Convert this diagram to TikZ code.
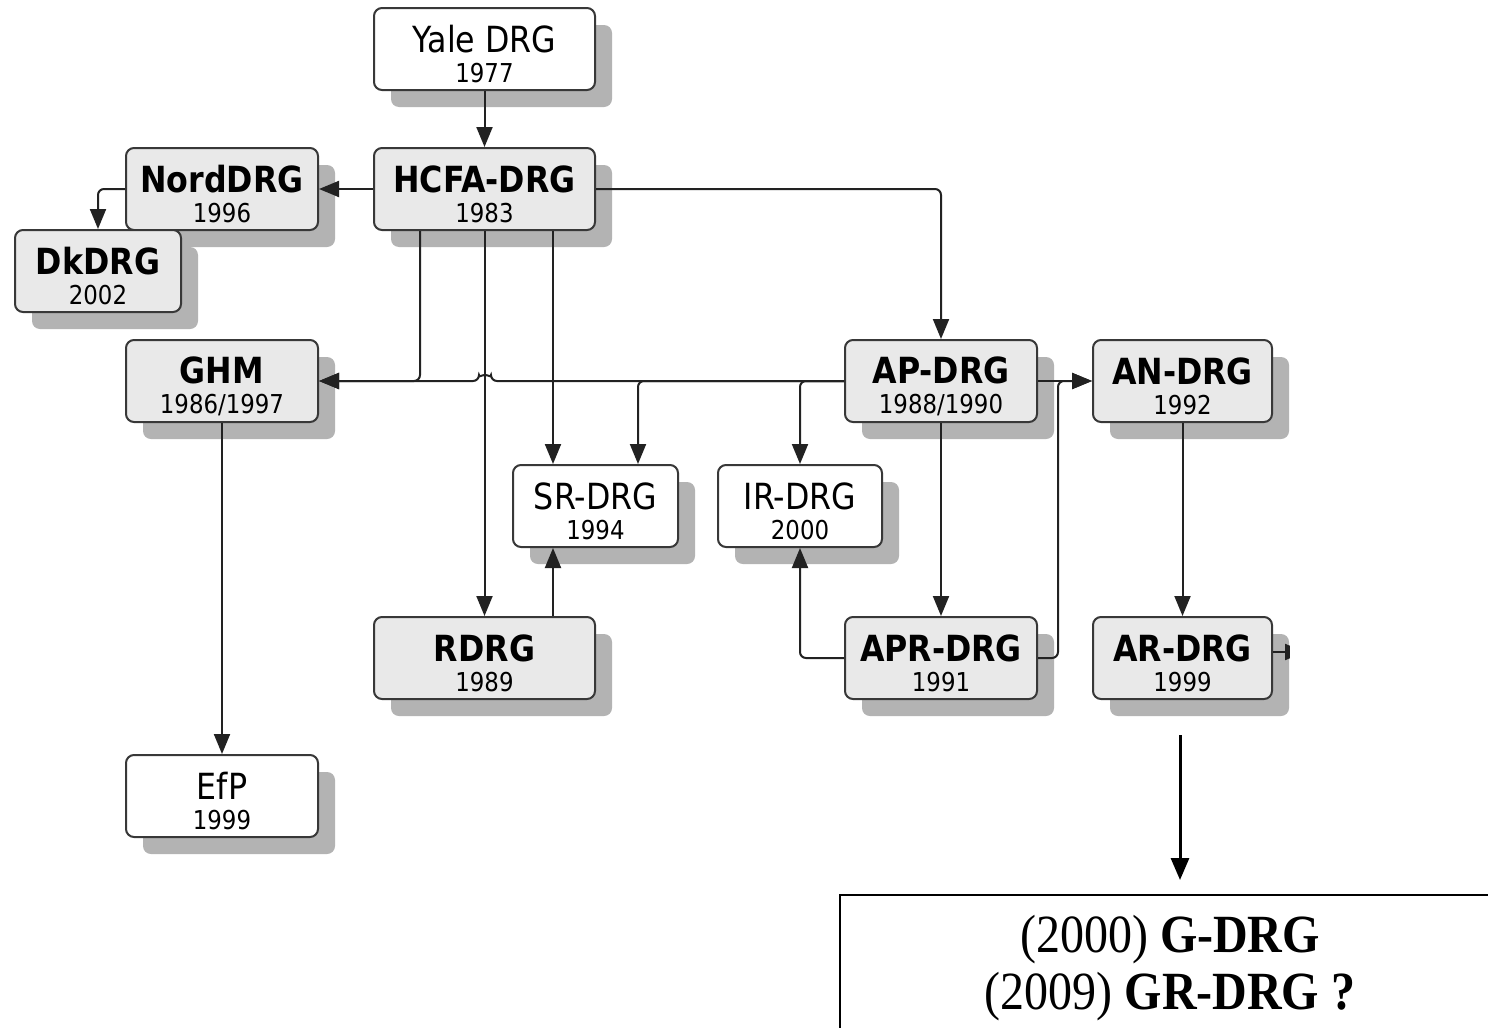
\documentclass[tikz,border=0pt]{standalone}
\usepackage{fontspec}
\newfontfamily\boxfont{DejaVu Sans}[FakeStretch=0.88]
\newfontfamily\timesfont{Liberation Serif}
\usetikzlibrary{arrows.meta,shadows,calc}
\definecolor{boxline}{HTML}{383838}
\definecolor{boxfill}{HTML}{E9E9E9}
\definecolor{shadowgray}{HTML}{B3B3B3}
\definecolor{connline}{HTML}{222222}
\tikzset{
 drgbox/.style={draw=boxline, line width=1pt, rounded corners=4pt, align=center, inner sep=0pt,
   general shadow={shadow xshift=8.5pt, shadow yshift=-8.5pt, fill=shadowgray, draw=none},
   font=\boxfont\fontsize{13}{15}\selectfont, minimum height=41pt},
 graybox/.style={drgbox, fill=boxfill},
 whitebox/.style={drgbox, fill=white},
 conn/.style={draw=connline, line width=1pt, rounded corners=3pt},
 arr/.style={conn, -{Triangle[length=10pt,width=8pt]}},
}
\newcommand{\ttl}[1]{{\rule{0pt}{19pt}\fontsize{18}{15}\selectfont #1}}
\newcommand{\btl}[1]{{\rule{0pt}{19pt}\fontsize{18}{15}\selectfont\bfseries #1}}
\begin{document}
\begin{tikzpicture}[x=0.5pt,y=-0.5pt]
\useasboundingbox[fill=white] (0,0) rectangle (1488,1028);
% nodes
\node[whitebox, minimum width=110.5pt] (yale) at (484.5,49) {\ttl{Yale DRG}\\1977};
\node[graybox, minimum width=110.5pt] (hcfa) at (484.5,189) {\btl{HCFA-DRG}\\1983};
\node[graybox, minimum width=96pt] (nord) at (222,189) {\btl{NordDRG}\\1996};
\node[graybox, minimum width=83pt] (dk) at (98,271) {\btl{DkDRG}\\2002};
\node[graybox, minimum width=96pt] (ghm) at (222,381) {\btl{GHM}\\1986/1997};
\node[graybox, minimum width=96pt] (ap) at (941,381) {\btl{AP-DRG}\\1988/1990};
\node[graybox, minimum width=89.5pt] (an) at (1182.5,381) {\btl{AN-DRG}\\1992};
\node[whitebox, minimum width=82.5pt] (sr) at (595.5,506) {\ttl{SR-DRG}\\1994};
\node[whitebox, minimum width=82pt] (ir) at (800,506) {\ttl{IR-DRG}\\2000};
\node[graybox, minimum width=110.5pt] (rdrg) at (484.5,658) {\btl{RDRG}\\1989};
\node[graybox, minimum width=96pt] (apr) at (941,658) {\btl{APR-DRG}\\1991};
\node[graybox, minimum width=89.5pt] (ar) at (1182.5,658) {\btl{AR-DRG}\\1999};
\node[whitebox, minimum width=96pt] (efp) at (222,796) {\ttl{EfP}\\1999};
% connectors
\draw[arr] (yale.south) -- (hcfa.north);
\draw[arr] (hcfa.west) -- (nord.east);
\draw[arr] (nord.west) -| (dk.north);
\draw[arr] (hcfa.east) -| (ap.north);
\draw[arr] ($(hcfa.south)+(-64.5,0)$) |- (ghm.east);
\draw[arr] (ap.west) -- (491,381) arc[start angle=0, end angle=-180, radius=6] -- (ghm.east);
\draw[arr] (hcfa.south) -- (rdrg.north);
\draw[arr] ($(hcfa.south)+(68.5,0)$) -- ($(sr.north)+(-42.5,0)$);
\draw[arr] (ap.west) -| ($(sr.north)+(42.5,0)$);
\draw[arr] (ap.west) -| (ir.north);
\draw[arr] ($(rdrg.north)+(68.5,0)$) -- ($(sr.south)+(-42.5,0)$);
\draw[arr] (apr.west) -| (ir.south);
\draw[arr] (ap.south) -- (apr.north);
\draw[arr] (ap.east) -- (an.west);
\draw[arr] (apr.east) -- (1058,658) -- (1058,381) -- (an.west);
\draw[arr] (an.south) -- (ar.north);
\draw[arr] (ghm.south) -- (efp.north);
\coordinate (cut) at (1305,652);
\draw[arr] ($(ar.east)+(0,-6)$) -- (cut);
\fill[white] (1290,540) rectangle (1488,720);
% bottom part
\coordinate (gstart) at (1180,735);
\coordinate (gend) at (1180,880);
\draw[line width=1.5pt, -{Triangle[length=11pt,width=9pt]}] (gstart) -- (gend);
\draw[line width=1pt] (1488,895) -- (840,895) -- (840,1028);
\node[font=\timesfont\fontsize{24}{28.5}\selectfont, align=center, inner sep=0pt] (gdrg) at (1170,968)
  {\scalebox{1}[1.12]{(2000) \textbf{G-DRG}}\\\scalebox{1}[1.12]{(2009) \textbf{GR-DRG ?}}};
\end{tikzpicture}
\end{document}
